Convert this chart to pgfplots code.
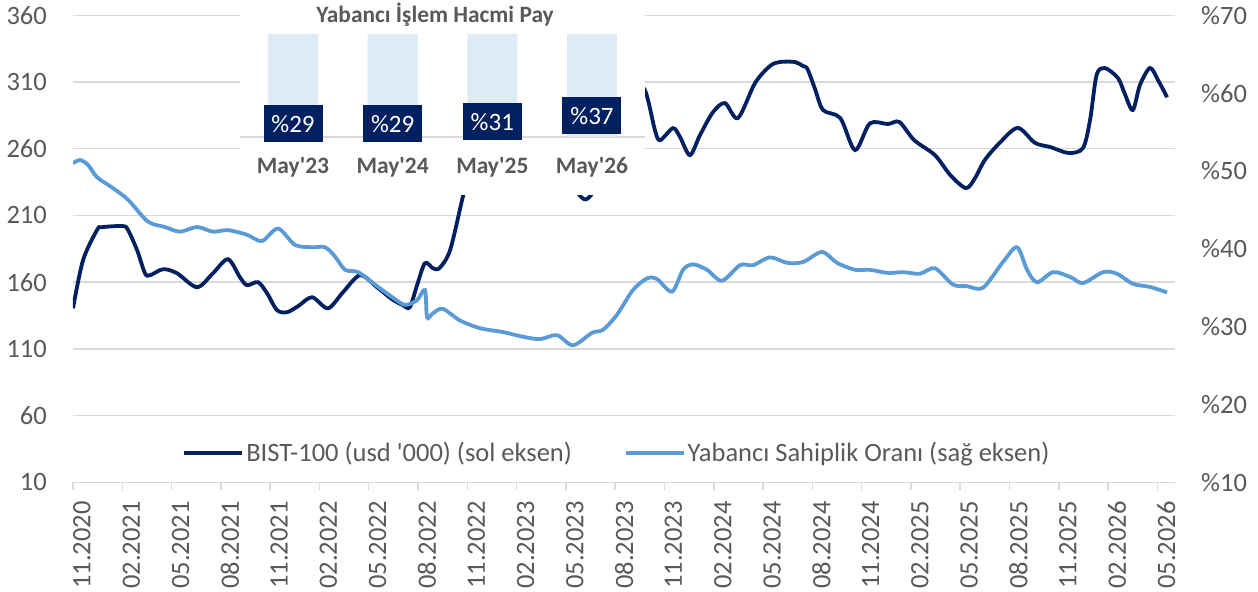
\documentclass[border=0pt]{standalone}
\usepackage{pgfplots}
\pgfplotsset{compat=1.18}
\usepackage{fontspec}
\setmainfont{Carlito}
\definecolor{navy}{RGB}{0,32,96}
\definecolor{lblue}{RGB}{91,155,213}
\definecolor{barblue}{RGB}{222,235,247}
\definecolor{txtgray}{RGB}{89,89,89}
\definecolor{gridgray}{RGB}{217,217,217}
\newcommand\tfont{\fontsize{26.5bp}{31bp}\selectfont}
\begin{document}
\begin{tikzpicture}
\pgfplotsset{
  base/.style={scale only axis, width=1102bp, height=467bp, xmin=0, xmax=67.07,
    at={(0,0)}, anchor=south west,
    /pgf/number format/assume math mode=true,
    tick label style={font=\tfont, text=txtgray},
  }
}
\begin{axis}[base,
  ymin=10, ymax=360, ytick={10,60,...,360},
  yticklabels={10,60,110,160,210,260,310,360},
  ymajorgrids, grid style={gridgray, line width=1.5bp},
  axis y line*=left, axis x line*=bottom,
  y axis line style={draw=none},
  x axis line style={gridgray, line width=1.5bp, -},
  xtick={0,3,...,66},
  xticklabels={11.2020,02.2021,05.2021,08.2021,11.2021,02.2022,05.2022,08.2022,11.2022,02.2023,05.2023,08.2023,11.2023,02.2024,05.2024,08.2024,11.2024,02.2025,05.2025,08.2025,11.2025,02.2026,05.2026},
  major tick length=8bp,
  tick align=outside,
  xtick style={gridgray, line width=1.5bp},
  ytick style={draw=none},
  xticklabel style={xshift=9bp, rotate=90, anchor=east, inner sep=0pt},
  yticklabel style={anchor=east, inner sep=0pt},
  yticklabel shift=18bp, xticklabel shift=11bp,
]
\addplot[navy, line width=3.8bp, smooth, tension=0.5] coordinates {
(0,140.4)(0.61,176.4)(1.46,199)(1.77,201.2)(3.04,202)(3.35,199)(3.9,184)(4.38,166.7)(4.69,165.2)
(5.48,169.7)(6.33,166.7)(7.55,156.2)(8.52,166.7)(9.43,177.2)(10.16,163.7)(10.59,157.7)(11.26,160)
(11.81,151.7)(12.42,139)(13.03,137.5)(13.7,142)(14.55,148.7)(15.52,140.4)(16.43,152.4)(17.47,165.2)
(18.5,156.2)(19.42,147.2)(20.09,142.7)(20.5,141.2)(20.94,157.7)(21.42,174.2)(21.9,170.5)(22.3,170.5)
(22.95,184)(23.74,224.6)(24.5,262)(25.3,285)(26.2,278)(27.2,262)(28.2,258)(29.2,248)(30.2,235)
(31.2,222)(32.1,238)(33.1,275)(34.0,310)(34.81,303.9)(35.42,273.9)(35.73,266.4)(36.52,275.4)
(36.95,268.7)(37.55,255.2)(38.16,270.2)(38.95,287.4)(39.68,294.2)(40.47,283)(41.51,309.2)(42.42,322)
(43.03,325)(43.94,325)(44.43,322)(44.7,319.8)(45.16,304.9)(45.65,289)(46.7,283)(47.6,259)(48.5,279)
(49.6,278.5)(50.3,280)(51.2,266.4)(52.46,255.2)(53.4,240.2)(54.35,230.5)(54.9,238)(55.5,251.6)
(56.4,264.4)(57.5,275.6)(58.55,264.4)(59.5,261.2)(60.6,256.8)(61.47,260.5)(61.9,281.4)(62.3,315.2)
(62.8,320.5)(63.6,313)(64,301.7)(64.5,289)(64.94,307.8)(65.55,320.5)(66.04,311.4)(66.59,298.6)
};
\end{axis}
\begin{axis}[base,
  ymin=10, ymax=70, ytick={10,20,...,70},
  yticklabels={\%10,\%20,\%30,\%40,\%50,\%60,\%70},
  axis y line*=right, axis x line=none,
  y axis line style={draw=none}, ytick style={draw=none},
  major tick length=0bp,
  yticklabel style={anchor=west, inner sep=0pt},
  yticklabel shift=26bp,
  legend style={at={(0.4936,0.0627)}, anchor=center, draw=none, fill=none,
    font=\tfont, text=txtgray, inner sep=0pt},
  legend columns=2,
  legend cell align=left,
  /tikz/every even column/.append style={column sep=50bp},
  legend image code/.code={\draw[#1] (0bp,0bp) -- (58bp,0bp);},
]
\addlegendimage{navy, line width=3.8bp}
\addlegendentry{BIST-100 (usd \textquotesingle 000) (sol eksen)}
\addplot[lblue, line width=3.8bp, smooth, tension=0.5] coordinates {
(0,51.0)(0.43,51.4)(0.91,50.8)(1.46,49.2)(2.43,47.8)(3.35,46.3)(4.56,43.5)(5.6,42.8)(6.51,42.2)
(7.55,42.8)(8.52,42.2)(9.43,42.4)(10.59,41.8)(11.5,41.0)(12.48,42.6)(13.51,40.5)(14.55,40.2)
(15.34,40.2)(15.95,39.0)(16.56,37.3)(17.35,37.0)(18.38,35.4)(19.42,33.8)(20.2,32.8)(20.94,33.4)
(21.42,34.7)(21.55,31.2)(21.9,31.7)(22.5,32.3)(23.55,30.8)(24.77,29.8)(26.17,29.3)(27.39,28.7)
(28.42,28.4)(29.46,28.9)(30.43,27.6)(31.59,29.2)(32.26,29.6)(33.1,31.5)(34.08,34.7)(34.94,36.2)
(35.55,36.1)(36.46,34.5)(37.13,37.3)(37.74,38.0)(38.59,37.3)(39.5,35.9)(40.6,37.9)(41.4,37.9)
(42.42,38.9)(43.46,38.2)(44.43,38.3)(45.59,39.6)(46.5,38.2)(47.6,37.3)(48.5,37.3)(49.6,36.9)
(50.5,37.0)(51.55,36.8)(52.46,37.5)(53.56,35.4)(54.41,35.2)(55.39,35.0)(56.6,38.3)(57.46,40.2)
(58.07,37.3)(58.67,35.7)(59.65,37.0)(60.68,36.4)(61.47,35.6)(62.69,37.0)(63.54,36.8)(64.51,35.5)
(65.55,35.1)(66.59,34.4)
};
\addlegendentry{Yabancı Sahiplik Oranı (sağ eksen)}
\end{axis}
\begin{axis}[at={(167bp,287.3bp)}, anchor=south west, scale only axis,
  width=405bp, height=195bp,
  xmin=-0.532, xmax=3.532, ymin=-56.3, ymax=133,
  axis background/.style={fill=white},
  axis line style={draw=none},
  ytick={0}, yticklabels={}, ymajorgrids, grid style={gridgray, line width=1.5bp},
  xtick={0,1,2,3},
  xticklabels={May\textquotesingle 23,May\textquotesingle 24,May\textquotesingle 25,May\textquotesingle 26},
  tick style={draw=none},
  xticklabel style={anchor=base, inner sep=0pt, font=\fontsize{23.5bp}{28bp}\selectfont\bfseries, text=txtgray},
  xticklabel shift=-21.7bp,
  title={Yabancı İşlem Hacmi Pay},
  title style={at={(0.4815,0.856)}, anchor=base, inner sep=0pt,
    font=\fontsize{23.4bp}{28bp}\selectfont\bfseries, text=txtgray},
]
\addplot[ybar, bar width=50bp, bar shift=0pt, fill=barblue, draw=none] coordinates {(0,100)(1,100)(2,100)(3,100)};
\addplot[ybar, bar width=50bp, bar shift=0pt, draw=none, fill=none,
  point meta=explicit symbolic, nodes near coords,
  every node near coord/.append style={fill=navy, text=white, anchor=north,
    minimum width=59bp, minimum height=37bp, inner sep=0pt, yshift=2bp,
    font=\fontsize{25bp}{29bp}\selectfont}]
  coordinates {(0,29)[\%29] (1,29)[\%29] (2,31)[\%31] (3,37)[\%37]};
\end{axis}
\pgfresetboundingbox
\path[use as bounding box] (-73bp,-109.7bp) rectangle (1185bp,482.3bp);
\end{tikzpicture}
\end{document}
